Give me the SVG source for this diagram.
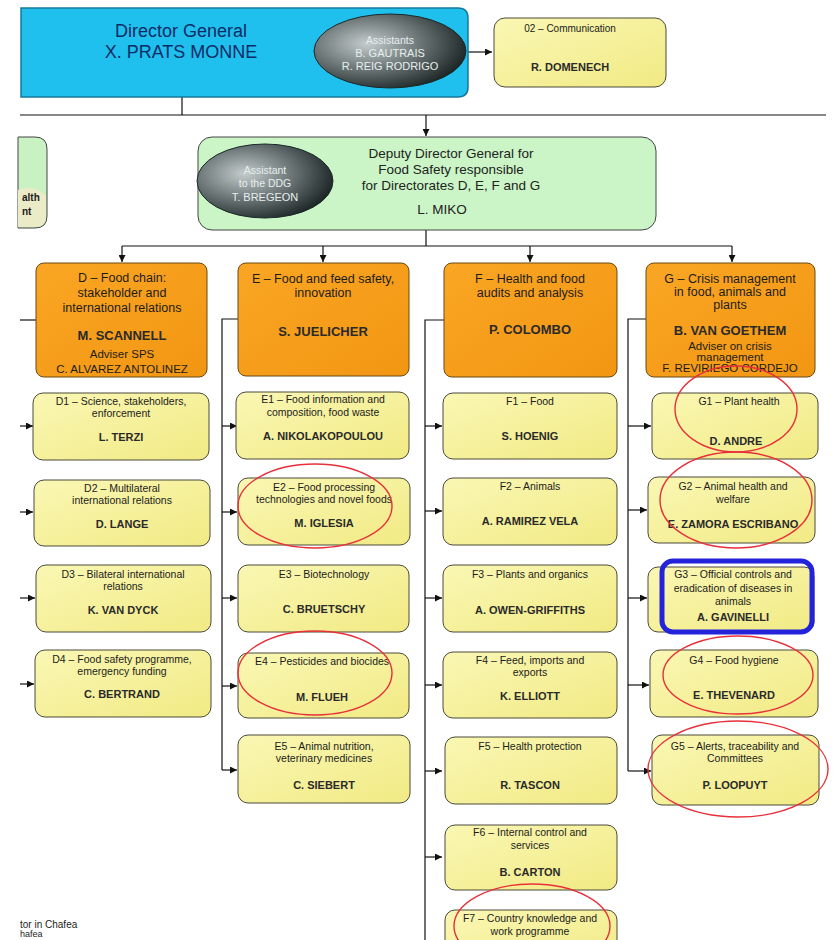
<svg xmlns="http://www.w3.org/2000/svg" width="838" height="940" viewBox="0 0 838 940">
<defs>
<style>
text{font-family:"Liberation Sans",Arial,sans-serif;fill:#1c1c1c;text-anchor:middle;dominant-baseline:central}
.ct{font-size:10.5px}
.cn{font-size:11px;font-weight:bold;fill:#2a2a2a}
.dt{font-size:12.5px}
.dn{font-size:13px;font-weight:bold;fill:#2a2a2a}
.ds{font-size:11.5px}
.child{fill:url(#yel);stroke:#4a4a3a;stroke-width:1}
.dir{fill:url(#org);stroke:#6a4a10;stroke-width:1}
.ell{fill:url(#dark);stroke:#1a2a2a;stroke-width:1}
.et{font-size:10.5px;fill:#e6eeee}
.ln{fill:none;stroke:#111;stroke-width:1.2}
.red{fill:none;stroke:#e8303a;stroke-width:1.4}
</style>
<linearGradient id="yel" x1="0" y1="0" x2="1" y2="1"><stop offset="0" stop-color="#faf7b4"/><stop offset="1" stop-color="#f1ea84"/></linearGradient>
<linearGradient id="org" x1="0" y1="0" x2="1" y2="1"><stop offset="0" stop-color="#faa624"/><stop offset="1" stop-color="#f29612"/></linearGradient>
<radialGradient id="dark" cx="0.35" cy="0.4" r="0.75"><stop offset="0" stop-color="#c4cccc"/><stop offset="0.55" stop-color="#5c6666"/><stop offset="1" stop-color="#0c1414"/></radialGradient>
<marker id="ar" viewBox="0 0 8 8" refX="8" refY="4" markerWidth="7" markerHeight="7" markerUnits="userSpaceOnUse" orient="auto"><path d="M0,0 L8,4 L0,8 z" fill="#111"/></marker>
</defs>
<rect width="838" height="940" fill="#fff"/>

<g id="connectors">
<path class="ln" d="M182,97 V115 M20,115 H826"/>
<path class="ln" d="M426,115 V136" marker-end="url(#ar)"/>
<path class="ln" d="M466,52 H492" marker-end="url(#ar)"/>
<path class="ln" d="M426,230 V246 M122,246 H732"/>
<path class="ln" d="M122,246 V262" marker-end="url(#ar)"/>
<path class="ln" d="M323,246 V262" marker-end="url(#ar)"/>
<path class="ln" d="M530,246 V262" marker-end="url(#ar)"/>
<path class="ln" d="M732,246 V262" marker-end="url(#ar)"/>
<path class="ln" d="M20,320 H36"/>
<path class="ln" d="M20,426 H33" marker-end="url(#ar)"/>
<path class="ln" d="M20,512 H33" marker-end="url(#ar)"/>
<path class="ln" d="M20,598 H35" marker-end="url(#ar)"/>
<path class="ln" d="M20,684 H34" marker-end="url(#ar)"/>
<path class="ln" d="M238,319 H222 V770"/>
<path class="ln" d="M222,426 H237" marker-end="url(#ar)"/>
<path class="ln" d="M222,512 H237" marker-end="url(#ar)"/>
<path class="ln" d="M222,598 H237" marker-end="url(#ar)"/>
<path class="ln" d="M222,686 H237" marker-end="url(#ar)"/>
<path class="ln" d="M222,770 H237" marker-end="url(#ar)"/>
<path class="ln" d="M444,320 H425 V940"/>
<path class="ln" d="M425,426 H442" marker-end="url(#ar)"/>
<path class="ln" d="M425,511 H442" marker-end="url(#ar)"/>
<path class="ln" d="M425,598 H442" marker-end="url(#ar)"/>
<path class="ln" d="M425,685 H442" marker-end="url(#ar)"/>
<path class="ln" d="M425,771 H442" marker-end="url(#ar)"/>
<path class="ln" d="M425,857 H442" marker-end="url(#ar)"/>
<path class="ln" d="M646,319 H628 V771"/>
<path class="ln" d="M628,426 H651" marker-end="url(#ar)"/>
<path class="ln" d="M628,510 H647" marker-end="url(#ar)"/>
<path class="ln" d="M628,598 H647" marker-end="url(#ar)"/>
<path class="ln" d="M628,685 H649" marker-end="url(#ar)"/>
<path class="ln" d="M628,771 H651" marker-end="url(#ar)"/>
</g>

<g id="dg">
<path d="M21,8 H458 Q468,8 468,18 V87 Q468,97 458,97 H21 Z" fill="#1fc0ee" stroke="#15789a" stroke-width="1.5"/>
<text x="181" y="31" style="font-size:18px;fill:#0c2c66">Director General</text>
<text x="181" y="52" style="font-size:18px;fill:#0c2c66">X. PRATS MONNE</text>
<ellipse class="ell" cx="390" cy="51" rx="76" ry="37"/>
<text class="et" x="390" y="40">Assistants</text>
<text class="et" x="390" y="53" style="font-size:11px">B. GAUTRAIS</text>
<text class="et" x="390" y="66" style="font-size:11px">R. REIG RODRIGO</text>
</g>

<g id="comm">
<rect class="child" x="494" y="18" width="172" height="69" rx="11"/>
<text class="ct" x="570" y="28" style="font-size:10px">02 – Communication</text>
<text class="cn" x="570" y="67">R. DOMENECH</text>
</g>

<g id="left-partial">
<path d="M18,137 H35 Q47,137 47,149 V216 Q47,228 35,228 H18 Z" fill="#c8f2c2" stroke="#444" stroke-width="1"/>
<path d="M18,190 Q36,184 46,196 V216 Q46,227 35,227 H18 Z" fill="#ecebc8"/>
<text x="22" y="197" style="font-size:10px;font-weight:bold;text-anchor:start">alth</text>
<text x="22" y="211" style="font-size:10px;font-weight:bold;text-anchor:start">nt</text>
</g>

<g id="ddg">
<rect x="198" y="137" width="458" height="93" rx="14" fill="#cbf5c6" stroke="#444" stroke-width="1"/>
<text x="451" y="153" style="font-size:13.5px;fill:#222">Deputy Director General for</text>
<text x="451" y="169" style="font-size:13.5px;fill:#222">Food Safety responsible</text>
<text x="451" y="185" style="font-size:13.5px;fill:#222">for Directorates D, E, F and G</text>
<text x="442" y="209" style="font-size:13.5px;fill:#222">L. MIKO</text>
<ellipse class="ell" cx="265" cy="181" rx="68" ry="37"/>
<text class="et" x="265" y="170">Assistant</text>
<text class="et" x="265" y="183">to the DDG</text>
<text class="et" x="265" y="197" style="font-size:11px">T. BREGEON</text>
</g>

<g id="dirD">
<rect class="dir" x="36" y="263" width="171" height="114" rx="8"/>
<text class="dt" x="122" y="278">D – Food chain:</text>
<text class="dt" x="122" y="293">stakeholder and</text>
<text class="dt" x="122" y="308">international relations</text>
<text class="dn" x="122" y="335">M. SCANNELL</text>
<text class="ds" x="122" y="354">Adviser SPS</text>
<text class="ds" x="122" y="369">C. ALVAREZ ANTOLINEZ</text>
</g>
<g id="dirE">
<rect class="dir" x="238" y="263" width="171" height="113" rx="8"/>
<text class="dt" x="323" y="279">E – Food and feed safety,</text>
<text class="dt" x="323" y="293">innovation</text>
<text class="dn" x="323" y="331">S. JUELICHER</text>
</g>
<g id="dirF">
<rect class="dir" x="444" y="263" width="173" height="114" rx="8"/>
<text class="dt" x="530" y="279">F – Health and food</text>
<text class="dt" x="530" y="293">audits and analysis</text>
<text class="dn" x="530" y="329">P. COLOMBO</text>
</g>
<g id="dirG">
<rect class="dir" x="646" y="263" width="169" height="114" rx="8"/>
<text class="dt" x="730" y="279">G – Crisis management</text>
<text class="dt" x="730" y="292">in food, animals and</text>
<text class="dt" x="730" y="305">plants</text>
<text class="dn" x="730" y="330">B. VAN GOETHEM</text>
<text class="ds" x="730" y="346">Adviser on crisis</text>
<text class="ds" x="730" y="357">management</text>
<text class="ds" x="730" y="368">F. REVIRIEGO CORDEJO</text>
</g>

<g id="D1"><rect class="child" x="33" y="393" width="176" height="67" rx="10"/>
<text class="ct" x="121" y="401">D1 – Science, stakeholders,</text><text class="ct" x="121" y="413">enforcement</text><text class="cn" x="121" y="437">L. TERZI</text></g>
<g id="D2"><rect class="child" x="34" y="480" width="176" height="66" rx="10"/>
<text class="ct" x="122" y="488">D2 – Multilateral</text><text class="ct" x="122" y="500">international relations</text><text class="cn" x="122" y="524">D. LANGE</text></g>
<g id="D3"><rect class="child" x="36" y="565" width="175" height="67" rx="10"/>
<text class="ct" x="123" y="574">D3 – Bilateral international</text><text class="ct" x="123" y="586">relations</text><text class="cn" x="123" y="610">K. VAN DYCK</text></g>
<g id="D4"><rect class="child" x="35" y="650" width="176" height="67" rx="10"/>
<text class="ct" x="122" y="659">D4 – Food safety programme,</text><text class="ct" x="122" y="671">emergency funding</text><text class="cn" x="122" y="694">C. BERTRAND</text></g>

<g id="E1"><rect class="child" x="236" y="392" width="173" height="67" rx="10"/>
<text class="ct" x="323" y="399">E1 – Food information and</text><text class="ct" x="323" y="412">composition, food waste</text><text class="cn" x="323" y="436">A. NIKOLAKOPOULOU</text></g>
<g id="E2"><rect class="child" x="238" y="478" width="172" height="67" rx="10"/>
<text class="ct" x="324" y="487">E2 – Food processing</text><text class="ct" x="324" y="499">technologies and novel foods</text><text class="cn" x="324" y="523">M. IGLESIA</text></g>
<g id="E3"><rect class="child" x="238" y="565" width="171" height="67" rx="10"/>
<text class="ct" x="324" y="574">E3 – Biotechnology</text><text class="cn" x="324" y="609">C. BRUETSCHY</text></g>
<g id="E4"><rect class="child" x="238" y="653" width="171" height="65" rx="10"/>
<text class="ct" x="322" y="661">E4 – Pesticides and biocides</text><text class="cn" x="322" y="697">M. FLUEH</text></g>
<g id="E5"><rect class="child" x="238" y="735" width="172" height="68" rx="10"/>
<text class="ct" x="324" y="746">E5 – Animal nutrition,</text><text class="ct" x="324" y="758">veterinary medicines</text><text class="cn" x="324" y="785">C. SIEBERT</text></g>

<g id="F1"><rect class="child" x="443" y="393" width="174" height="66" rx="10"/>
<text class="ct" x="530" y="401">F1 – Food</text><text class="cn" x="530" y="436">S. HOENIG</text></g>
<g id="F2"><rect class="child" x="443" y="478" width="174" height="67" rx="10"/>
<text class="ct" x="530" y="486">F2 – Animals</text><text class="cn" x="530" y="521">A. RAMIREZ VELA</text></g>
<g id="F3"><rect class="child" x="443" y="565" width="174" height="67" rx="10"/>
<text class="ct" x="530" y="574">F3 – Plants and organics</text><text class="cn" x="530" y="610">A. OWEN-GRIFFITHS</text></g>
<g id="F4"><rect class="child" x="443" y="652" width="174" height="66" rx="10"/>
<text class="ct" x="530" y="660">F4 – Feed, imports and</text><text class="ct" x="530" y="672">exports</text><text class="cn" x="530" y="696">K. ELLIOTT</text></g>
<g id="F5"><rect class="child" x="445" y="737" width="172" height="67" rx="10"/>
<text class="ct" x="530" y="746">F5 – Health protection</text><text class="cn" x="530" y="785">R. TASCON</text></g>
<g id="F6"><rect class="child" x="445" y="825" width="172" height="65" rx="10"/>
<text class="ct" x="530" y="832">F6 – Internal control and</text><text class="ct" x="530" y="845">services</text><text class="cn" x="530" y="872">B. CARTON</text></g>
<g id="F7"><rect class="child" x="445" y="910" width="172" height="60" rx="10"/>
<text class="ct" x="530" y="918">F7 – Country knowledge and</text><text class="ct" x="530" y="931">work programme</text></g>

<g id="G1"><rect class="child" x="652" y="393" width="166" height="66" rx="10"/>
<text class="ct" x="739" y="401">G1 – Plant health</text><text class="cn" x="736" y="441">D. ANDRE</text></g>
<g id="G2"><rect class="child" x="648" y="477" width="167" height="66" rx="10"/>
<text class="ct" x="733" y="486">G2 – Animal health and</text><text class="ct" x="733" y="499">welfare</text><text class="cn" x="733" y="524">E. ZAMORA ESCRIBANO</text></g>
<g id="G3"><rect class="child" x="648" y="567" width="166" height="65" rx="10"/>
<text class="ct" x="733" y="574">G3 – Official controls and</text><text class="ct" x="733" y="588">eradication of diseases in</text><text class="ct" x="733" y="601">animals</text><text class="cn" x="733" y="617">A. GAVINELLI</text>
<rect x="662" y="561" width="150" height="71" rx="11" fill="none" stroke="#2323dc" stroke-width="5"/></g>
<g id="G4"><rect class="child" x="650" y="650" width="168" height="67" rx="10"/>
<text class="ct" x="734" y="660">G4 – Food hygiene</text><text class="cn" x="734" y="695">E. THEVENARD</text></g>
<g id="G5"><rect class="child" x="652" y="735" width="167" height="70" rx="10"/>
<text class="ct" x="735" y="746">G5 – Alerts, traceability and</text><text class="ct" x="735" y="758">Committees</text><text class="cn" x="735" y="785">P. LOOPUYT</text></g>

<g id="annotations">
<ellipse class="red" cx="736" cy="409" rx="61" ry="43"/>
<ellipse class="red" cx="736" cy="500" rx="76" ry="48"/>
<ellipse class="red" cx="315" cy="506" rx="77" ry="42"/>
<ellipse class="red" cx="315" cy="673" rx="77" ry="42"/>
<ellipse class="red" cx="738" cy="675" rx="75" ry="39"/>
<ellipse class="red" cx="738" cy="769" rx="90" ry="48"/>
<ellipse class="red" cx="532" cy="926" rx="78" ry="42"/>
</g>

<g id="footer">
<text x="20" y="924" style="font-size:10px;text-anchor:start">tor in Chafea</text>
<text x="20" y="934" style="font-size:9px;text-anchor:start">hafea</text>
</g>
</svg>
